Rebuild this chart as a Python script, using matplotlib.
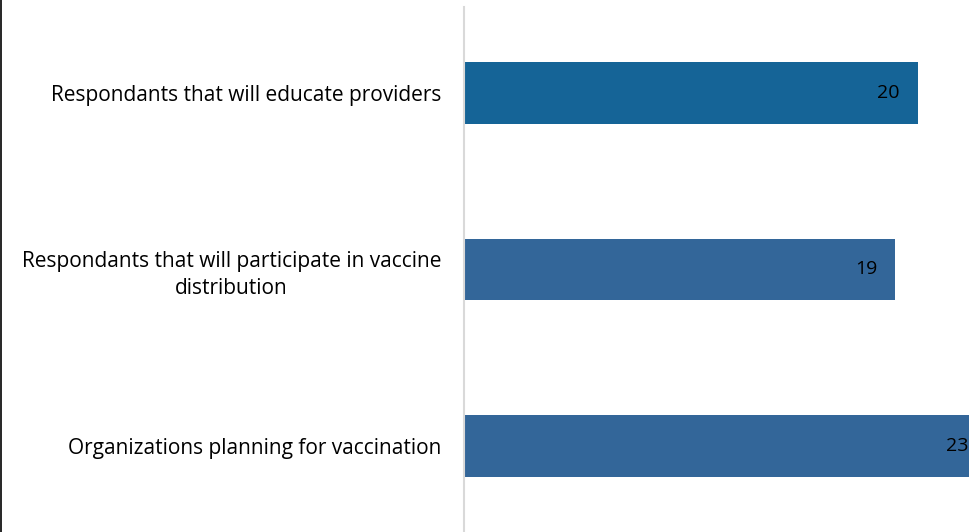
import matplotlib.pyplot as plt
from matplotlib.lines import Line2D

categories = ["Organizations planning for vaccination",
              "Respondants that will participate in vaccine\ndistribution",
              "Respondants that will educate providers"]
values = [23, 19, 20]
colors = ['#336699', '#336699', '#156497']

plt.rcParams['font.family'] = ['Open Sans', 'DejaVu Sans']

fig = plt.figure(figsize=(9.7, 5.32), dpi=100)
ax = fig.add_axes([464 / 970, 0, 1 - 464 / 970, 525 / 532])

ypos = range(len(categories))
ax.barh(ypos, values, height=0.35, color=colors)
ax.set_xlim(0, 506 / 22.7)
ax.set_ylim(-0.49, 2.49)

for y, v in zip(ypos, values):
    ax.text(v - 0.8, y, str(v), ha='right', va='center', fontsize=14, color='black')

ax.set_yticks(list(ypos))
ax.set_yticklabels(categories, fontsize=15, multialignment='center', linespacing=1.35)
ax.tick_params(axis='y', length=0, pad=16.5)
ax.set_xticks([])
for s in ['top', 'right', 'bottom']:
    ax.spines[s].set_visible(False)
ax.spines['left'].set_color('#d9d9d9')
ax.spines['left'].set_linewidth(1.5)

fig.add_artist(Line2D([0.0008, 0.0008], [0, 1], color='black', linewidth=1.2))

fig.savefig('out.png', dpi=100)
